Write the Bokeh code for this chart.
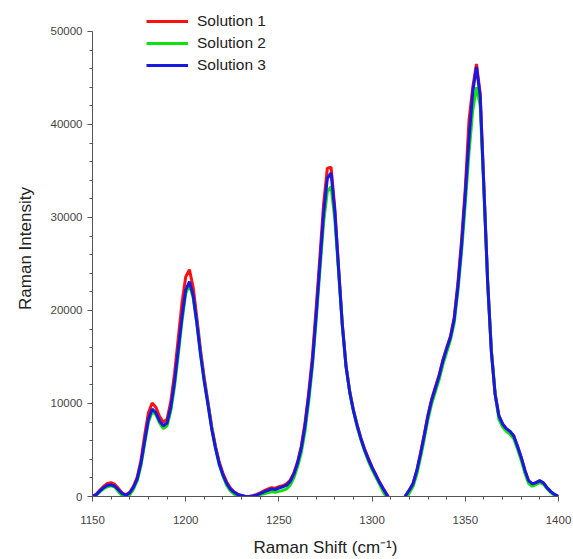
from bokeh.plotting import figure
from bokeh.models import (Range1d, FixedTicker, BasicTickFormatter, Legend, LegendItem)
from bokeh.embed import file_html
from bokeh.resources import INLINE

# ---------------- data ----------------
shift = [1150, 1152, 1154, 1156, 1158, 1160, 1162, 1164, 1166, 1168,
         1170, 1172, 1174, 1176, 1178, 1180, 1182, 1184, 1186, 1188,
         1190, 1192, 1194, 1196, 1198, 1200, 1202, 1204, 1206, 1208,
         1210, 1212, 1214, 1216, 1218, 1220, 1222, 1224, 1226, 1228,
         1230, 1232, 1234, 1236, 1238, 1240, 1242, 1244, 1246, 1248,
         1250, 1252, 1254, 1256, 1258, 1260, 1262, 1264, 1266, 1268,
         1270, 1272, 1274, 1276, 1278, 1280, 1282, 1284, 1286, 1288,
         1290, 1292, 1294, 1296, 1298, 1300, 1302, 1304, 1306, 1308,
         1310, 1312, 1314, 1316, 1318, 1320, 1322, 1324, 1326, 1328,
         1330, 1332, 1334, 1336, 1338, 1340, 1342, 1344, 1346, 1348,
         1350, 1352, 1354, 1356, 1358, 1360, 1362, 1364, 1366, 1368,
         1370, 1372, 1374, 1376, 1378, 1380, 1382, 1384, 1386, 1388,
         1390, 1392, 1394, 1396, 1398, 1400]

solution1 = [0, 250, 700, 1100, 1400, 1480, 1300, 850, 350, 180,
             450, 1100, 2100, 3900, 6600, 9000, 10050, 9600, 8600, 8000,
             8300, 10200, 13200, 17000, 20800, 23600, 24400, 22500, 19200, 15700,
             12700, 10100, 7500, 5400, 3700, 2500, 1550, 900, 500, 250,
             100, 0, 0, 80, 220, 400, 600, 800, 950, 900,
             1050, 1150, 1350, 1750, 2500, 3700, 5400, 7900, 11200, 15100,
             20300, 25800, 31500, 35300, 35400, 31000, 24700, 18600, 14100, 11300,
             9300, 7700, 6300, 5100, 4100, 3150, 2350, 1550, 850, 200,
             -500, -1200, -1500, -700, 100, 700, 1400, 2800, 4700, 6700,
             8800, 10500, 11800, 13100, 14700, 16000, 17200, 19200, 22900, 27600,
             33200, 40500, 44000, 46500, 43300, 33300, 23100, 15600, 11000, 8700,
             7800, 7300, 7000, 6500, 5400, 4200, 2800, 1500, 1300, 1500,
             1700, 1450, 900, 500, 200, 0]

solution2 = [0, 150, 500, 850, 1050, 1150, 1000, 500, 100, 0,
             200, 800, 1700, 3300, 5700, 8000, 9100, 8800, 7900, 7300,
             7600, 9200, 11800, 15200, 18800, 21800, 22800, 21400, 18600, 15300,
             12400, 9900, 7300, 5200, 3400, 2200, 1200, 600, 250, 50,
             0, 0, 0, 0, 100, 200, 300, 400, 500, 450,
             550, 650, 800, 1200, 2000, 3200, 4700, 7000, 10200, 14000,
             19000, 24300, 29500, 32800, 33300, 29800, 24200, 18400, 14000, 11200,
             9200, 7500, 6100, 4900, 3800, 2900, 2100, 1300, 500, -200,
             -900, -1600, -1900, -1100, -300, 400, 1100, 2400, 4200, 6200,
             8300, 10000, 11300, 12600, 14200, 15500, 16800, 18600, 22000, 26300,
             31500, 37000, 41500, 44000, 42000, 33000, 23000, 15700, 11100, 8300,
             7500, 7000, 6700, 6200, 5100, 3900, 2500, 1400, 1100, 1300,
             1500, 1300, 800, 400, 100, 0]

solution3 = [0, 200, 600, 950, 1200, 1250, 1100, 700, 300, 150,
             400, 1000, 1900, 3600, 6000, 8300, 9400, 9000, 8100, 7600,
             7900, 9600, 12300, 15800, 19300, 22200, 23100, 21600, 18600, 15200,
             12300, 9800, 7200, 5200, 3500, 2300, 1400, 800, 450, 200,
             100, 0, 0, 50, 150, 300, 500, 650, 800, 750,
             900, 1050, 1200, 1600, 2400, 3600, 5200, 7600, 10800, 14500,
             19500, 25000, 30500, 34200, 34800, 30600, 24500, 18500, 14000, 11200,
             9200, 7600, 6200, 5000, 4000, 3100, 2300, 1500, 800, 150,
             -500, -1200, -1500, -700, 100, 700, 1400, 2800, 4600, 6600,
             8700, 10400, 11700, 13000, 14600, 15900, 17100, 19000, 22500, 27000,
             32500, 38500, 43500, 46200, 43000, 33000, 23000, 15500, 11000, 8700,
             7800, 7300, 7000, 6500, 5400, 4200, 2800, 1700, 1350, 1500,
             1700, 1450, 900, 500, 200, 0]

series_names = ["Solution 1", "Solution 2", "Solution 3"]
series_colors = ["#ff1010", "#10e010", "#1818e0"]

x_ticks = [1150, 1200, 1250, 1300, 1350, 1400]
x_minor = [1160, 1170, 1180, 1190, 1210, 1220, 1230, 1240, 1260, 1270, 1280, 1290,
           1310, 1320, 1330, 1340, 1360, 1370, 1380, 1390]
y_ticks = [0, 10000, 20000, 30000, 40000, 50000]
y_minor = [2000, 4000, 6000, 8000, 12000, 14000, 16000, 18000, 22000, 24000, 26000, 28000,
           32000, 34000, 36000, 38000, 42000, 44000, 46000, 48000]

# ---------------- figure ----------------
# frame spans the full top of the canvas; the axis line stops at 50000
p = figure(width=573, height=559, output_backend="svg", toolbar_location=None,
           x_range=Range1d(1150, 1400), y_range=Range1d(0, 53333),
           min_border_left=92, min_border_right=15, min_border_top=0, min_border_bottom=63)
p.outline_line_color = None
p.grid.visible = False
p.background_fill_color = "white"
p.border_fill_color = "white"

renderers = []
for ys, c in zip([solution1, solution2, solution3], series_colors):
    r = p.line(shift, ys, line_color=c, line_width=3)
    renderers.append(r)

font = "Liberation Sans"
for ax in [p.xaxis[0], p.yaxis[0]]:
    ax.axis_line_color = "#555555"
    ax.major_tick_line_color = "#555555"
    ax.minor_tick_line_color = "#555555"
    ax.major_tick_in = 0
    ax.major_tick_out = 5
    ax.minor_tick_in = 0
    ax.minor_tick_out = 3
    ax.major_label_text_font = font
    ax.major_label_text_font_size = "11.5px"
    ax.major_label_text_color = "#444444"
    ax.axis_label_text_font = font
    ax.axis_label_text_font_size = "17px"
    ax.axis_label_text_font_style = "normal"
    ax.axis_label_text_color = "#222222"

p.yaxis[0].bounds = (0, 50000)
p.xaxis[0].ticker = FixedTicker(ticks=x_ticks, minor_ticks=x_minor)
p.yaxis[0].ticker = FixedTicker(ticks=y_ticks, minor_ticks=y_minor)
p.yaxis[0].formatter = BasicTickFormatter(use_scientific=False)
p.xaxis[0].axis_label = "Raman Shift (cm\u207b\u00b9)"
p.yaxis[0].axis_label = "Raman Intensity"
p.xaxis[0].major_label_standoff = 14
p.xaxis[0].axis_label_standoff = 11
p.yaxis[0].major_label_standoff = 5
p.yaxis[0].axis_label_standoff = 13

legend = Legend(items=[LegendItem(label=n, renderers=[r]) for n, r in zip(series_names, renderers)],
                location=(54, 420), orientation="vertical")
legend.background_fill_alpha = 0
legend.border_line_color = None
legend.padding = 0
legend.margin = 0
legend.spacing = 0
legend.glyph_width = 42
legend.glyph_height = 22
legend.label_height = 22
legend.label_standoff = 9
legend.label_text_font = font
legend.label_text_font_size = "15.5px"
legend.label_text_color = "#222222"
p.add_layout(legend, "center")

open("out.html", "w").write(file_html(p, INLINE))
